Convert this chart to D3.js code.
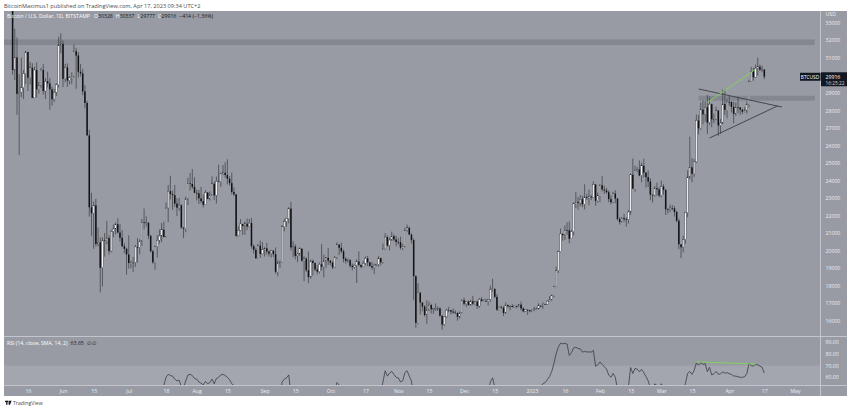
<!DOCTYPE html>
<html><head><meta charset="utf-8">
<script src="https://cdn.jsdelivr.net/npm/d3@7"></script>
<style>
html,body{margin:0;padding:0;background:#fff;}
svg{display:block;font-family:"Open Sans","Liberation Sans",sans-serif;}
</style></head>
<body>
<svg id="c" width="850" height="409"></svg>
<script>
// ---------------- DATA (BTC/USD, Bitstamp, daily) ----------------
const startDate = "2022-05-09";
const opens = [
// May 2022
34060,30300,31020,28940,29030,29290,30100,31330,29860,30430,28710,30300,29200,29430,30300,29100,29650,29540,29200,28630,29030,29460,31730,
// Jun
31790,29800,30450,29700,29860,29910,31370,31130,30200,30110,29080,28420,26570,22470,22130,22580,20380,20470,19020,20550,20570,20720,19970,21100,21230,21500,21030,20730,20250,20100,
// Jul
19780,19290,19300,19320,20210,20180,20550,21620,21590,21590,20850,19960,19330,20230,20590,20830,21190,20780,22430,23390,23230,23160,22680,22450,22580,21310,21250,22950,23840,23800,23640,
// Aug
23300,23270,22980,22820,22620,23310,22950,23170,23810,23150,23950,23940,24400,24440,24310,24100,23850,23340,23210,20840,21150,21520,21400,21530,21370,21570,20260,20040,19560,20280,19810,
// Sep
20050,20130,19950,19830,19990,19800,18790,19290,19320,21360,21650,21830,22400,20180,20230,19700,19800,20110,19420,19540,18880,18490,19410,19290,18920,18800,19220,19080,19410,19590,
// Oct
19420,19310,19050,19620,20340,20160,19960,19530,19420,19450,19130,19060,19160,19380,19180,19070,19270,19550,19330,19120,19040,19170,19210,19570,19330,20090,20770,20290,20600,20820,20630,
// Nov
20490,20480,20160,20210,21150,21300,20910,20600,18540,15880,17590,17040,16810,16330,16620,16890,16660,16690,16700,16700,16280,15780,16220,16600,16600,16520,16460,16440,16220,16440,
// Dec
17170,16970,17090,16890,17110,16970,17090,16840,17220,17130,17130,17090,17210,17780,17810,17360,16630,16780,16740,16440,16900,16820,16830,16780,16840,16830,16920,16700,16540,16630,16600,
// Jan 2023
16540,16620,16670,16670,16850,16830,16950,16940,17120,17180,17440,17940,18850,19930,20950,20880,21170,21160,20680,21080,22670,22780,22710,22930,22640,23060,23010,23080,23030,23770,22840,
// Feb
23130,23730,23490,23430,23330,22940,22760,23250,22970,21800,21630,21860,21790,21780,22200,24330,23530,24570,24630,24280,24840,24450,24190,23940,23190,23160,23560,23490,
// Mar
23140,23650,23470,22360,22350,22430,22410,22200,21700,20360,20190,20630,22160,24200,24750,24380,25060,27420,26970,28040,27770,28180,27300,28350,27490,27490,27990,27140,27270,28360,28030,
// Apr
28480,28470,28200,27800,28180,28170,28040,27920,27960,28340,29650,30230,29890,30400,30490,30320,30328
];
const highs = [
34240,32660,32150,30060,31000,30300,31400,31330,30760,30690,30490,30740,29620,30430,30650,29830,30210,29840,29360,29230,29540,32200,32400,
31970,30650,30680,29950,30170,31750,31550,31320,30650,30370,29440,28540,26880,23300,22800,22960,21320,20750,20750,21000,21700,20870,21200,21480,21600,21850,21520,21170,20420,20160,
20870,19420,19640,20330,20710,20650,21810,22400,21950,21600,20880,20040,20270,20880,21200,21570,21650,22750,23750,24270,23430,23740,22980,23000,22660,21330,23080,24150,24440,24650,24190,
23470,23460,23640,23200,23450,23340,23380,24230,23930,24220,24900,24450,24880,25040,25210,24250,24440,23600,23210,21380,21800,21520,21670,21830,21800,21860,20350,20160,20380,20570,20480,
20200,20440,19990,20000,20030,20180,19440,19440,21450,21790,21850,22480,22780,20530,20350,19880,20180,20110,19680,19630,19940,19490,19480,19310,19170,19320,20370,19770,19630,20150,
19470,19390,19690,20470,20360,20450,20060,19620,19550,19520,19260,19220,19500,19950,19220,19420,19670,19700,19350,19340,19250,19250,19690,19600,20400,21000,20870,20740,21080,20930,20840,
20700,20790,20390,21300,21480,21360,20980,20690,18590,18140,17650,17060,16890,17170,17100,16970,16740,16990,16810,16760,16300,16250,16680,16790,16610,16700,16600,16480,16530,17220,
17320,17100,17160,17200,17420,17110,17140,17300,17350,17230,17260,17240,18000,18390,17850,17530,16800,16860,16820,17040,16910,16860,16950,16860,16860,16930,17090,16780,16660,16640,16630,
16630,16790,16770,16990,16880,17040,16970,17180,17400,17490,17990,19100,19990,21260,20990,21440,21620,21650,21190,22750,23340,23060,23180,23130,23780,23240,23480,23180,23950,23800,23310,
23790,24260,23700,23580,23440,23150,23350,23450,22990,21910,21900,22090,21890,22320,24380,25250,24850,24770,25140,25000,25240,24460,24580,24130,23200,23680,23880,23600,
23990,23780,23480,22420,22620,22600,22540,22270,21830,20370,20850,22180,24580,26500,25280,25220,27760,27740,28440,28560,28510,28880,28780,28390,27800,28200,28020,27510,29180,29170,28650,
28810,28530,28490,28450,28770,28190,28100,28170,28510,29750,30480,30430,30610,31010,30610,30550,30337
];
const lows = [
30030,29730,27740,25450,28750,28640,29500,29100,29470,28700,28690,28740,28960,29260,28900,28650,29310,28030,28270,28470,28820,29300,31250,
29330,29600,29340,29480,29500,29880,29230,29880,29940,28870,28120,26560,21940,20840,20100,20240,20240,17620,17950,19650,20360,19780,19900,20760,20920,20980,20520,20200,19850,18630,
18970,18990,18780,19070,19310,19790,20260,21230,21380,20650,19900,19250,18910,19600,20400,20480,20750,20760,21620,22910,22330,22500,21960,22280,21250,20710,21050,22600,23430,23520,23270,
22860,22660,22700,22460,22600,22930,22850,23150,22880,22680,23920,23630,24300,24150,23780,23700,23200,23110,20780,20820,21100,20900,20900,21170,21330,20110,19830,19530,19550,19580,19790,
19650,19760,19660,19600,19640,18680,18540,19020,19300,21100,21360,21560,20000,19630,19500,19340,19700,19360,18250,18780,18140,18390,18570,18830,18640,18690,18860,18480,19020,19180,
19170,18940,19000,19510,19740,19860,19330,19260,19320,19030,18870,18970,18150,19100,18990,19060,19160,19110,19060,18900,18660,19110,19080,19160,19250,20060,20220,20010,20560,20530,20240,
20340,20060,20030,20180,21080,20890,20400,17170,15590,15800,16360,16540,16230,15820,16550,16410,16400,16560,16560,16230,15480,15700,16160,16480,16360,16410,16400,16000,16110,16440,
16880,16790,16860,16880,16880,16910,16680,16740,17080,17100,17070,16870,17080,17660,17280,16560,16590,16690,16270,16400,16730,16590,16760,16760,16710,16790,16590,16470,16490,16330,16480,
16490,16550,16600,16650,16750,16680,16910,16910,17100,17160,17320,17910,18720,19890,20560,20600,20900,20410,20660,20870,22430,22330,22520,22480,22350,22880,22580,22880,23000,22550,22720,
22770,23380,23230,23250,22760,22640,22720,22700,21710,21480,21600,21640,21360,21540,22040,23510,23360,24470,24240,23890,24170,23590,23630,22870,22740,23080,23120,23030,
23030,23200,22030,22110,22200,22300,21950,21620,20070,19570,19900,20400,21900,24070,23900,24200,25000,26630,26880,27200,27350,26650,27170,27040,27260,27440,26550,26650,27220,27720,27550,
28250,27880,27260,27690,27840,27740,27790,27880,27810,28170,29630,29690,29870,29990,30240,30170,29777
];
const closes = [
30300,31020,28940,29030,29290,30100,31330,29860,30430,28710,30300,29200,29430,30300,29100,29650,29540,29200,28630,29030,29460,31730,31790,
29800,30450,29700,29860,29910,31370,31130,30200,30110,29080,28420,26570,22470,22130,22580,20380,20470,19020,20550,20570,20720,19970,21100,21230,21500,21030,20730,20250,20100,19780,
19290,19300,19320,20210,20180,20550,21620,21590,21590,20850,19960,19330,20230,20590,20830,21190,20780,22430,23390,23230,23160,22680,22450,22580,21310,21250,22950,23840,23800,23640,23300,
23270,22980,22820,22620,23310,22950,23170,23810,23150,23950,23940,24400,24440,24310,24100,23850,23340,23210,20840,21150,21520,21400,21530,21370,21570,20260,20040,19560,20280,19810,20050,
20130,19950,19830,19990,19800,18790,19290,19320,21360,21650,21830,22400,20180,20230,19700,19800,20110,19420,19540,18880,18490,19410,19290,18920,18800,19220,19080,19410,19590,19420,
19310,19050,19620,20340,20160,19960,19530,19420,19450,19130,19060,19160,19380,19180,19070,19270,19550,19330,19120,19040,19170,19210,19570,19330,20090,20770,20290,20600,20820,20630,20490,
20480,20160,20210,21150,21300,20910,20600,18540,15880,17590,17040,16810,16330,16620,16890,16660,16690,16700,16700,16280,15780,16220,16600,16600,16520,16460,16440,16220,16440,17170,
16970,17090,16890,17110,16970,17090,16840,17220,17130,17130,17090,17210,17780,17810,17360,16630,16780,16740,16440,16900,16820,16830,16780,16840,16830,16920,16700,16540,16630,16600,16540,
16620,16670,16670,16850,16830,16950,16940,17120,17180,17440,17940,18850,19930,20950,20880,21170,21160,20680,21080,22670,22780,22710,22930,22640,23060,23010,23080,23030,23770,22840,23130,
23730,23490,23430,23330,22940,22760,23250,22970,21800,21630,21860,21790,21780,22200,24330,23530,24570,24630,24280,24840,24450,24190,23940,23190,23160,23560,23490,23140,
23650,23470,22360,22350,22430,22410,22200,21700,20360,20190,20630,22160,24200,24750,24380,25060,27420,26970,28040,27770,28180,27300,28350,27490,27490,27990,27140,27270,28360,28030,28480,
28470,28200,27800,28180,28170,28040,27920,27960,28340,29650,30230,29890,30400,30490,30320,30328,29916
];

// RSI (14) readings taken from the lower pane (values below ~53 are hidden under the pane edge)
const rsiDates = ["2022-05-09","2022-07-16","2022-07-17","2022-07-18","2022-07-19","2022-07-20","2022-07-21","2022-07-22","2022-07-23","2022-07-24","2022-07-25","2022-07-26","2022-07-27","2022-07-28","2022-07-29","2022-07-30","2022-07-31","2022-08-01","2022-08-02","2022-08-03","2022-08-04","2022-08-05","2022-08-06","2022-08-07","2022-08-08","2022-08-09","2022-08-10","2022-08-11","2022-08-12","2022-08-13","2022-08-14","2022-08-15","2022-08-16","2022-08-17","2022-08-18","2022-08-19",
"2022-09-08","2022-09-09","2022-09-10","2022-09-11","2022-09-12","2022-09-13",
"2022-10-03","2022-10-04","2022-10-05","2022-10-06",
"2022-10-24","2022-10-25","2022-10-26","2022-10-27","2022-10-28","2022-10-29","2022-10-30","2022-10-31","2022-11-01","2022-11-02","2022-11-03","2022-11-04","2022-11-05","2022-11-06","2022-11-07","2022-11-08",
"2022-12-12","2022-12-13","2022-12-14","2022-12-15","2022-12-16",
"2023-01-05","2023-01-06","2023-01-07","2023-01-08","2023-01-09","2023-01-10","2023-01-11","2023-01-12","2023-01-13","2023-01-14","2023-01-15","2023-01-16","2023-01-17","2023-01-18","2023-01-19","2023-01-20","2023-01-21","2023-01-22","2023-01-23","2023-01-24","2023-01-25","2023-01-26","2023-01-27","2023-01-28","2023-01-29","2023-01-30","2023-01-31","2023-02-01","2023-02-02","2023-02-03","2023-02-04","2023-02-05","2023-02-06","2023-02-07","2023-02-08","2023-02-09",
"2023-02-14","2023-02-15","2023-02-16","2023-02-17","2023-02-18","2023-02-19","2023-02-20","2023-02-21","2023-02-22","2023-02-23","2023-02-24","2023-02-25","2023-02-26","2023-02-27","2023-02-28","2023-03-01","2023-03-02","2023-03-03",
"2023-03-11","2023-03-12","2023-03-13","2023-03-14","2023-03-15","2023-03-16","2023-03-17","2023-03-18","2023-03-19","2023-03-20","2023-03-21","2023-03-22","2023-03-23","2023-03-24","2023-03-25","2023-03-26","2023-03-27","2023-03-28","2023-03-29","2023-03-30","2023-03-31","2023-04-01","2023-04-02","2023-04-03","2023-04-04","2023-04-05","2023-04-06","2023-04-07","2023-04-08","2023-04-09","2023-04-10","2023-04-11","2023-04-12","2023-04-13","2023-04-14","2023-04-15","2023-04-16","2023-04-17"];
const rsiValues = [35,48,53,60,62.5,61.5,61,58.5,57,57.5,52,51.5,57,62,62.5,61.5,59,58.5,56,55,53.5,56.5,54.5,55.5,58.5,54.5,59,60,62,62.5,61.5,60,58,54.5,53,38,
44,56,58.5,59.5,62,46,
49,55.5,53.5,51,
48,56,65.5,61,63.5,65,62.5,60,59.5,56,57,64,65.5,61,57,38,
48,56,59.5,52,42,
52,54.7,55.5,58,60.6,65,71.7,80,85.6,88.9,88.5,88.8,88.3,78.6,81,85,85.5,84.5,84.2,81.4,82,81.5,81.6,81.4,82.8,69.4,70.5,73,71,69,67,62,60,63.3,60,50,
52,68.3,63.3,67.5,67,64.7,66.7,64,60.6,57,51,50,54.5,53,51,54.5,52,44,
48,54.7,63.3,65,62.5,66,72.2,70.3,72.5,71,71.7,64.7,68.5,62,63,65,62.5,63,64.5,63.5,64,63,62.5,61.1,61,60.5,60,60,60.5,63,71.7,70,69.5,71,70.5,69.5,68.5,63.65];

// Axis ticks
const priceTicks = [16000,17000,18000,19000,20000,21000,22000,23000,24000,25000,26000,27000,28000,29000,30000,31000,32000,33000];
const rsiTicks = [60,70,80,90];
const timeTickDates = ["2022-05-16","2022-06-01","2022-06-15","2022-07-01","2022-07-18","2022-08-01","2022-08-15","2022-09-01","2022-09-15","2022-10-01","2022-10-17","2022-11-01","2022-11-15","2022-12-01","2022-12-15","2023-01-01","2023-01-16","2023-02-01","2023-02-15","2023-03-01","2023-03-15","2023-04-01","2023-04-17","2023-05-01"];
const timeTickLabels = ["16","Jun","15","Jul","18","Aug","15","Sep","15","Oct","17","Nov","15","Dec","15","2023","16","Feb","15","Mar","15","Apr","17","May"];

// Drawings (date, price)
const resistanceZones = [
  {from:"2022-05-03", to:"2023-05-10", lo:31730, hi:32040},
  {from:"2023-03-18", to:"2023-05-10", lo:28550, hi:28830}
];
const trendLines = [
  {d1:"2023-03-18", p1:29220, d2:"2023-04-25", p2:28190, color:"#3b3d44"},
  {d1:"2023-03-23", p1:26420, d2:"2023-04-23", p2:28250, color:"#3b3d44"},
  {d1:"2023-03-22", p1:28440, d2:"2023-04-13", p2:30340, color:"#7ed957"}
];
const rsiLines = [
  {d1:"2023-03-17", v1:73.2, d2:"2023-04-13", v2:71.2, color:"#7ed957"}
];

// ---------------- DRAWING ----------------
const parse = d3.timeParse("%Y-%m-%d");
const svg = d3.select("#c");
const BG = "#989ba3";
const FRAME = {l:4, t:11, r:847, b:396};
const plotR = 820.5, priceB = 336.5, rsiT = 337, rsiB = 385.5;

const x = d3.scaleTime().domain([parse("2022-06-01"), parse("2023-05-01")]).range([63, 795]);
const y = d3.scaleLinear().domain([16000, 33000]).range([320.7, 22.7]);
const ry = d3.scaleLinear().domain([60, 90]).range([377.3, 342]);

// header
svg.append("text").attr("x", 4).attr("y", 7.5).attr("font-size", 5.6).attr("fill", "#4a4a4a")
  .text("BitcoinMaximus1 published on TradingView.com, Apr 17, 2023 09:34 UTC+2");

// frame background
svg.append("rect").attr("x", FRAME.l).attr("y", FRAME.t).attr("width", FRAME.r - FRAME.l).attr("height", FRAME.b - FRAME.t).attr("fill", BG);

const defs = svg.append("defs");
defs.append("clipPath").attr("id", "pc").append("rect").attr("x", FRAME.l).attr("y", FRAME.t).attr("width", plotR - FRAME.l).attr("height", priceB - FRAME.t);
defs.append("clipPath").attr("id", "rc").append("rect").attr("x", FRAME.l).attr("y", rsiT).attr("width", plotR - FRAME.l).attr("height", rsiB - rsiT);

// price pane
const pg = svg.append("g").attr("clip-path", "url(#pc)");
resistanceZones.forEach(z => {
  pg.append("rect").attr("x", x(parse(z.from))).attr("width", x(parse(z.to)) - x(parse(z.from)))
    .attr("y", y(z.hi)).attr("height", y(z.lo) - y(z.hi)).attr("fill", "#7d8088").attr("opacity", 0.75);
});

const candles = closes.map((c, i) => ({d: d3.timeDay.offset(parse(startDate), i), o: opens[i], h: highs[i], l: lows[i], c}));
const bw = 1.5;
pg.selectAll("line.w").data(candles).join("line").attr("class", "w")
  .attr("x1", d => x(d.d)).attr("x2", d => x(d.d))
  .attr("y1", d => y(d.h)).attr("y2", d => y(d.l))
  .attr("stroke", "#3a3c42").attr("stroke-width", 0.7);
pg.selectAll("rect.b").data(candles).join("rect").attr("class", "b")
  .attr("x", d => x(d.d) - bw / 2).attr("width", bw)
  .attr("y", d => y(Math.max(d.o, d.c)))
  .attr("height", d => Math.max(0.7, Math.abs(y(d.o) - y(d.c))))
  .attr("fill", d => d.c >= d.o ? "#f4f4f6" : "#101114")
  .attr("stroke", d => d.c >= d.o ? "#2c2e33" : "none").attr("stroke-width", 0.35);

trendLines.forEach(t => {
  pg.append("line").attr("x1", x(parse(t.d1))).attr("y1", y(t.p1)).attr("x2", x(parse(t.d2))).attr("y2", y(t.p2))
    .attr("stroke", t.color).attr("stroke-width", 0.9);
});

// legend
const lg = svg.append("text").attr("x", 7).attr("y", 18).attr("font-size", 5.2).attr("fill", "#ffffff");
lg.append("tspan").text("Bitcoin / U.S. Dollar, 1D, BITSTAMP");
[["O","30328"],["H","30337"],["L","29777"],["C","29916"]].forEach((p, i) => {
  lg.append("tspan").attr("dx", i === 0 ? 4 : 3).attr("fill", "#ffffff").text(p[0]);
  lg.append("tspan").attr("fill", "#131722").text(p[1]);
});
lg.append("tspan").attr("dx", 3).attr("fill", "#131722").text("\u2212414 (\u22121.36%)");

// RSI pane
svg.append("rect").attr("x", FRAME.l).attr("y", ry(70)).attr("width", plotR - FRAME.l).attr("height", rsiB - ry(70)).attr("fill", "#a3a6ae");
const rg = svg.append("g").attr("clip-path", "url(#rc)");
const rsiPts = rsiDates.map((d, i) => [x(parse(d)), ry(rsiValues[i])]);
rg.append("path").attr("d", d3.line()(rsiPts)).attr("fill", "none").attr("stroke", "#34363c").attr("stroke-width", 0.75);
rsiLines.forEach(t => {
  rg.append("line").attr("x1", x(parse(t.d1))).attr("y1", ry(t.v1)).attr("x2", x(parse(t.d2))).attr("y2", ry(t.v2))
    .attr("stroke", t.color).attr("stroke-width", 0.9);
});
const rl = svg.append("text").attr("x", 7).attr("y", 344.5).attr("font-size", 5.2).attr("fill", "#ffffff");
rl.append("tspan").text("RSI (14, close, SMA, 14, 2)");
rl.append("tspan").attr("dx", 3).attr("fill", "#22242a").text("63.65");
rl.append("tspan").attr("dx", 3).attr("fill", "#22242a").text("\u2205 \u2205");

// separators
const sep = "#c3c5cc";
svg.append("line").attr("x1", FRAME.l).attr("x2", FRAME.r).attr("y1", priceB).attr("y2", priceB).attr("stroke", sep).attr("stroke-width", 1);
svg.append("line").attr("x1", FRAME.l).attr("x2", FRAME.r).attr("y1", rsiB).attr("y2", rsiB).attr("stroke", sep).attr("stroke-width", 1);
svg.append("line").attr("x1", plotR).attr("x2", plotR).attr("y1", FRAME.t).attr("y2", FRAME.b).attr("stroke", sep).attr("stroke-width", 1);

// price axis
const axisTxt = "#eceef2";
const ya = svg.append("g").attr("transform", `translate(${plotR},0)`)
  .call(d3.axisRight(y).tickValues(priceTicks).tickSize(0).tickPadding(5).tickFormat(d3.format("d")));
ya.select(".domain").remove();
ya.selectAll("text").attr("font-size", 5.2).attr("fill", axisTxt).attr("font-family", "Open Sans, sans-serif");
svg.append("text").attr("x", plotR + 5).attr("y", 16).attr("font-size", 5.2).attr("fill", axisTxt).text("USD");

const ra = svg.append("g").attr("transform", `translate(${plotR},0)`)
  .call(d3.axisRight(ry).tickValues(rsiTicks).tickSize(0).tickPadding(5).tickFormat(d3.format(".2f")));
ra.select(".domain").remove();
ra.selectAll("text").attr("font-size", 5.2).attr("fill", axisTxt).attr("font-family", "Open Sans, sans-serif");

// last price marker
const lastY = y(closes[closes.length - 1]);
svg.append("rect").attr("x", plotR + 0.5).attr("y", lastY - 4.5).attr("width", FRAME.r - plotR - 0.5).attr("height", 14).attr("fill", "#131722");
svg.append("text").attr("x", plotR + 5).attr("y", lastY + 1.8).attr("font-size", 5.2).attr("fill", "#ffffff").text("29916");
svg.append("text").attr("x", plotR + 5).attr("y", lastY + 7.8).attr("font-size", 4.8).attr("fill", "#d0d3da").text("16:25:22");
svg.append("rect").attr("x", 800).attr("y", lastY - 4).attr("width", plotR - 800).attr("height", 8).attr("fill", "#131722");
svg.append("text").attr("x", 810).attr("y", lastY + 1.8).attr("font-size", 4.8).attr("fill", "#ffffff").attr("text-anchor", "middle").text("BTCUSD");

// time axis
const xa = svg.append("g").attr("transform", `translate(0,${rsiB})`)
  .call(d3.axisBottom(x).tickValues(timeTickDates.map(parse)).tickSize(0).tickPadding(4)
    .tickFormat((d, i) => timeTickLabels[i]));
xa.select(".domain").remove();
xa.selectAll("text").attr("font-size", 5.2).attr("fill", axisTxt).attr("font-family", "Open Sans, sans-serif");

// footer logo
const ft = svg.append("g").attr("transform", "translate(5,400)");
ft.append("rect").attr("x", 0).attr("y", 0.8).attr("width", 3.2).attr("height", 1.3).attr("fill", "#131722");
ft.append("rect").attr("x", 1.2).attr("y", 0.8).attr("width", 1.3).attr("height", 4).attr("fill", "#131722");
ft.append("path").attr("d", "M3.6 0.8 L6.6 0.8 L5 4.8 L3.6 4.8 Z").attr("fill", "#131722");
ft.append("text").attr("x", 8).attr("y", 4.6).attr("font-size", 5.2).attr("fill", "#4a4a4a").text("TradingView");
</script>
</body></html>
